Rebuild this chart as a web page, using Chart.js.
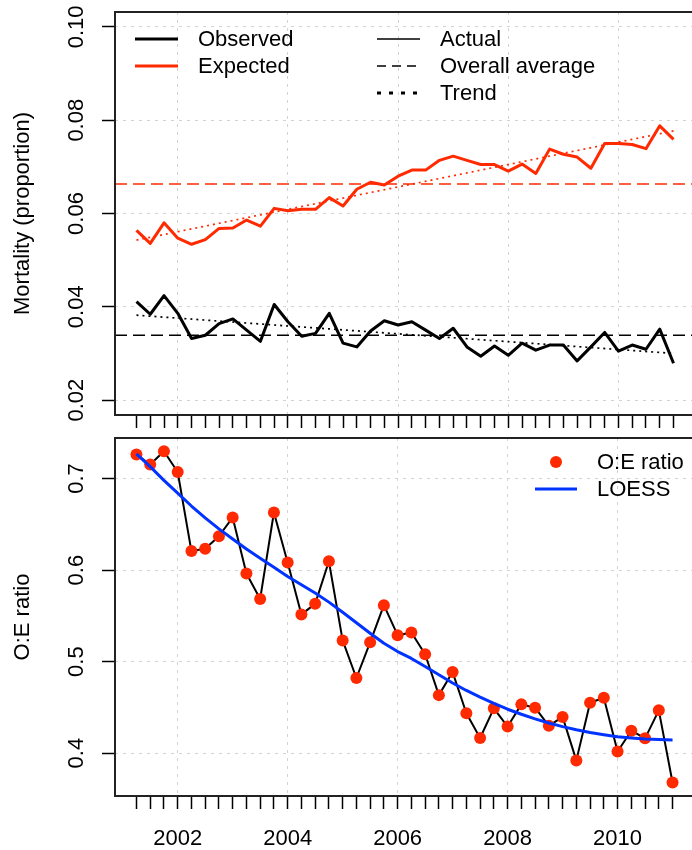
<!DOCTYPE html>
<html>
<head>
<meta charset="utf-8">
<script src="https://cdn.jsdelivr.net/npm/chart.js@4"></script>
<style>
html, body { margin:0; padding:0; background:#fff; overflow:hidden; }
#caja-mortalidad { position:absolute; left:0; top:0; }
#caja-razon { position:absolute; left:0; top:432px; }
</style>
</head>
<body>
<div id="caja-mortalidad"><canvas id="grafico-mortalidad" width="700" height="432"></canvas></div>
<div id="caja-razon"><canvas id="grafico-razon" width="700" height="418"></canvas></div>
<script>
// datos trimestrales
const trimestres = [2001.25, 2001.5, 2001.75, 2002, 2002.25, 2002.5, 2002.75, 2003, 2003.25, 2003.5,
    2003.75, 2004, 2004.25, 2004.5, 2004.75, 2005, 2005.25, 2005.5, 2005.75, 2006,
    2006.25, 2006.5, 2006.75, 2007, 2007.25, 2007.5, 2007.75, 2008, 2008.25, 2008.5,
    2008.75, 2009, 2009.25, 2009.5, 2009.75, 2010, 2010.25, 2010.5, 2010.75, 2011];
const observado = [0.0411, 0.0384, 0.0424, 0.0386, 0.0332, 0.0339, 0.0364, 0.0374, 0.0350, 0.0326,
    0.0405, 0.0368, 0.0337, 0.0343, 0.0386, 0.0322, 0.0314, 0.0348, 0.0370, 0.0361,
    0.0368, 0.0350, 0.0332, 0.0354, 0.0314, 0.0294, 0.0316, 0.0296, 0.0322, 0.0307,
    0.0318, 0.0318, 0.0284, 0.0314, 0.0345, 0.0305, 0.0318, 0.0309, 0.0352, 0.0279];
const esperado = [0.0564, 0.0536, 0.0580, 0.0547, 0.0534, 0.0544, 0.0568, 0.0569, 0.0586, 0.0573,
    0.0611, 0.0606, 0.0609, 0.0609, 0.0634, 0.0616, 0.0652, 0.0667, 0.0661, 0.0680,
    0.0693, 0.0693, 0.0714, 0.0723, 0.0714, 0.0705, 0.0705, 0.0691, 0.0706, 0.0686,
    0.0738, 0.0727, 0.0721, 0.0697, 0.0750, 0.0750, 0.0748, 0.0739, 0.0788, 0.0759];
const razonOE = [0.7263, 0.7154, 0.7299, 0.7072, 0.6208, 0.6233, 0.6370, 0.6575, 0.5963, 0.5685,
    0.6629, 0.6082, 0.5516, 0.5631, 0.6096, 0.5232, 0.4821, 0.5211, 0.5617, 0.5289,
    0.5318, 0.5080, 0.4634, 0.4886, 0.4436, 0.4166, 0.4490, 0.4291, 0.4533, 0.4497,
    0.4299, 0.4396, 0.3921, 0.4551, 0.4605, 0.4018, 0.4245, 0.4162, 0.4468, 0.3680];
const loess = [0.727, 0.713, 0.698, 0.684, 0.670, 0.657, 0.645, 0.634, 0.623, 0.613,
    0.603, 0.593, 0.584, 0.575, 0.565, 0.554, 0.5425, 0.531, 0.520, 0.511,
    0.5035, 0.4947, 0.4857, 0.4767, 0.4685, 0.4612, 0.4544, 0.448, 0.4425, 0.4375,
    0.433, 0.429, 0.4255, 0.4225, 0.4202, 0.418, 0.4166, 0.4155, 0.4148, 0.4144];
const promedioObservado = 0.0339;
const promedioEsperado = 0.0663;
const tendenciaObservado = [0.0382, 0.0300];
const tendenciaEsperado = [0.0543, 0.0777];
const ticksMortalidad = [0.02, 0.04, 0.06, 0.08, 0.10];
const ticksRazon = [0.4, 0.5, 0.6, 0.7];
const aniosEtiqueta = [2002, 2004, 2006, 2008, 2010];

const ROJO = '#ff2a00';
const AZUL = '#0033ff';
const NEGRO = '#000000';
const GRIS = '#d3d3d3';
const FUENTE = '"Liberation Sans", Arial, sans-serif';
const xMin = 2000.86, xMax = 2011.39;

function puntos(valores){
    return trimestres.map((t, i) => ({x: t, y: valores[i]}));
}

function linea(valores, inicio, fin){
    return [{x: inicio, y: valores[0]}, {x: fin, y: valores[1]}];
}

function ejeX(conEtiquetas, alto){
    return {
        type: 'linear', min: xMin, max: xMax,
        afterBuildTicks: (eje) => { eje.ticks = trimestres.map(t => ({value: t})); },
        afterFit: (eje) => { eje.height = alto; },
        ticks: {
            display: conEtiquetas, autoSkip: false, maxRotation: 0, minRotation: 0,
            padding: 17, color: NEGRO, font: {family: FUENTE, size: 22},
            callback: (v) => aniosEtiqueta.includes(v) ? String(v) : ''
        },
        grid: {
            color: (c) => (c.tick && aniosEtiqueta.includes(c.tick.value)) ? GRIS : 'rgba(0,0,0,0)',
            lineWidth: 1, tickColor: NEGRO, tickLength: 13, tickWidth: 1.5
        },
        border: {display: false, dash: [3, 5]}
    };
}

function ejeY(min, max, marcas){
    return {
        type: 'linear', min: min, max: max,
        afterBuildTicks: (eje) => { eje.ticks = marcas.map(v => ({value: v})); },
        afterFit: (eje) => { eje.width = 115; },
        ticks: {display: false},
        grid: {color: GRIS, lineWidth: 1, tickColor: NEGRO, tickLength: 13, tickWidth: 1.5},
        border: {display: false, dash: [3, 5]}
    };
}

// caja, etiquetas giradas del eje y, titulo y leyenda al estilo R
const pluginMarco = {
    id: 'marco',
    afterDraw(chart, args, opts){
        const ctx = chart.ctx;
        const area = chart.chartArea;
        const escala = chart.scales.y;
        ctx.save();
        ctx.strokeStyle = '#222';
        ctx.lineWidth = 2;
        ctx.strokeRect(area.left, area.top, area.right - area.left, area.bottom - area.top);
        ctx.fillStyle = NEGRO;
        ctx.font = '22px ' + FUENTE;
        ctx.textAlign = 'center';
        ctx.textBaseline = 'alphabetic';
        opts.marcas.forEach(v => {
            ctx.save();
            ctx.translate(83, escala.getPixelForValue(v));
            ctx.rotate(-Math.PI / 2);
            ctx.fillText(v.toFixed(opts.decimales), 0, 0);
            ctx.restore();
        });
        ctx.save();
        ctx.translate(29, (area.top + area.bottom) / 2);
        ctx.rotate(-Math.PI / 2);
        ctx.fillText(opts.titulo, 0, 0);
        ctx.restore();
        ctx.textAlign = 'left';
        ctx.textBaseline = 'middle';
        opts.leyenda.forEach(item => {
            ctx.setLineDash(item.dash || []);
            if (item.punto){
                ctx.fillStyle = item.color;
                ctx.beginPath();
                ctx.arc(item.x1, item.y, 6, 0, Math.PI * 2);
                ctx.fill();
            } else {
                ctx.strokeStyle = item.color;
                ctx.lineWidth = item.ancho;
                ctx.beginPath();
                ctx.moveTo(item.x1, item.y);
                ctx.lineTo(item.x2, item.y);
                ctx.stroke();
            }
            ctx.setLineDash([]);
            ctx.fillStyle = NEGRO;
            ctx.fillText(item.texto, item.xt, item.y + 1);
        });
        ctx.restore();
    }
};

function graficoMortalidad(){
    const ctx = document.getElementById('grafico-mortalidad');
    new Chart(ctx, {
        type: 'line',
        data: {
            datasets: [
                {data: puntos(observado), borderColor: NEGRO, borderWidth: 3},
                {data: puntos(esperado), borderColor: ROJO, borderWidth: 3},
                {data: linea([promedioObservado, promedioObservado], xMin, xMax), borderColor: NEGRO, borderWidth: 1.5, borderDash: [12, 6]},
                {data: linea([promedioEsperado, promedioEsperado], xMin, xMax), borderColor: ROJO, borderWidth: 1.5, borderDash: [12, 6]},
                {data: linea(tendenciaObservado, trimestres[0], trimestres[trimestres.length - 1]), borderColor: NEGRO, borderWidth: 1.7, borderDash: [2, 4]},
                {data: linea(tendenciaEsperado, trimestres[0], trimestres[trimestres.length - 1]), borderColor: ROJO, borderWidth: 1.7, borderDash: [2, 4]}
            ]
        },
        options: opcionesBase(ejeY(0.0168, 0.1032, ticksMortalidad), ejeX(false, 17), 12, {
            marcas: ticksMortalidad, decimales: 2, titulo: 'Mortality (proportion)',
            leyenda: [
                {x1: 135, x2: 178, y: 39, color: NEGRO, ancho: 3, texto: 'Observed', xt: 198},
                {x1: 135, x2: 178, y: 66, color: ROJO, ancho: 3, texto: 'Expected', xt: 198},
                {x1: 377, x2: 420, y: 39, color: NEGRO, ancho: 1.5, texto: 'Actual', xt: 440},
                {x1: 377, x2: 420, y: 66, color: NEGRO, ancho: 1.5, dash: [9, 6], texto: 'Overall average', xt: 440},
                {x1: 377, x2: 420, y: 93, color: NEGRO, ancho: 3, dash: [4, 8], texto: 'Trend', xt: 440}
            ]
        }),
        plugins: [pluginMarco]
    });
}

function graficoRazon(){
    const ctx = document.getElementById('grafico-razon');
    new Chart(ctx, {
        type: 'line',
        data: {
            datasets: [
                {data: puntos(loess), borderColor: AZUL, borderWidth: 3},
                {data: puntos(razonOE), showLine: false, pointRadius: 6, pointBackgroundColor: ROJO, pointBorderWidth: 0, borderColor: ROJO},
                {data: puntos(razonOE), borderColor: NEGRO, borderWidth: 2}
            ]
        },
        options: opcionesBase(ejeY(0.3532, 0.7443, ticksRazon), ejeX(true, 54), 2, {
            marcas: ticksRazon, decimales: 1, titulo: 'O:E ratio',
            leyenda: [
                {punto: true, x1: 556, y: 30, color: ROJO, texto: 'O:E ratio', xt: 597},
                {x1: 535, x2: 577, y: 57, color: AZUL, ancho: 3, texto: 'LOESS', xt: 597}
            ]
        }),
        plugins: [pluginMarco]
    });
}

function opcionesBase(y, x, arriba, marco){
    return {
        responsive: false,
        animation: false,
        events: [],
        layout: {padding: {top: arriba, right: 5, left: 0, bottom: 0}},
        elements: {
            line: {tension: 0, fill: false, borderJoinStyle: 'round'},
            point: {radius: 0}
        },
        scales: {x: x, y: y},
        plugins: {legend: {display: false}, tooltip: {enabled: false}, marco: marco}
    };
}

graficoMortalidad();
graficoRazon();
</script>
</body>
</html>
